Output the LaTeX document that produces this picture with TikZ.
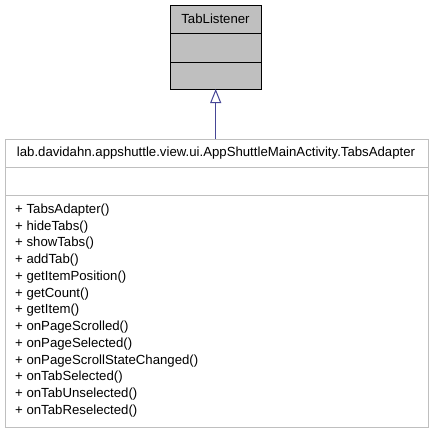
\documentclass[tikz,border=0pt]{standalone}
\usepackage{fontspec}
\setmainfont{Liberation Sans}
\usetikzlibrary{arrows.meta}
\definecolor{edgeblue}{RGB}{70,70,150}
\definecolor{boxgray}{RGB}{191,191,191}
\begin{document}
\begin{tikzpicture}[x=1pt,y=-1pt,
  ifacebox/.style={draw=black,fill=boxgray,line width=0.9pt},
  classbox/.style={draw=boxgray,fill=white,line width=0.9pt},
  lbl/.style={inner sep=0pt,font=\fontsize{13.2}{15}\selectfont},
  inherit/.style={draw=edgeblue,line width=1.2pt,-{Triangle[open,length=14pt,width=11pt,line width=1pt]}}]
\useasboundingbox (0,0) rectangle (432,437);
% interface TabListener
\draw[ifacebox] (170,5) rectangle (261,89);
\draw[black,line width=0.9pt] (170,33) -- (261,33) (170,62) -- (261,62);
\node[lbl] (tl) at (215.5,19) {TabListener};
\coordinate (tlb) at (215.7,89);
% class TabsAdapter
\draw[classbox] (5,139) rectangle (428,427);
\draw[boxgray,line width=0.9pt] (5,167) -- (428,167) (5,195) -- (428,195);
\node[lbl] (ta) at (216,153) {lab.davidahn.appshuttle.view.ui.AppShuttleMainActivity.TabsAdapter};
\coordinate (tat) at (215.7,139);
\foreach \m [count=\i from 0] in {TabsAdapter(),hideTabs(),showTabs(),addTab(),getItemPosition(),getCount(),getItem(),onPageScrolled(),onPageSelected(),onPageScrollStateChanged(),onTabSelected(),onTabUnselected(),onTabReselected()}
  \node[lbl,anchor=west] (m\i) at (15,210+16.75*\i) {+ \m};
% generalization arrow
\draw[inherit] (tat) -- (tlb);
\end{tikzpicture}
\end{document}
